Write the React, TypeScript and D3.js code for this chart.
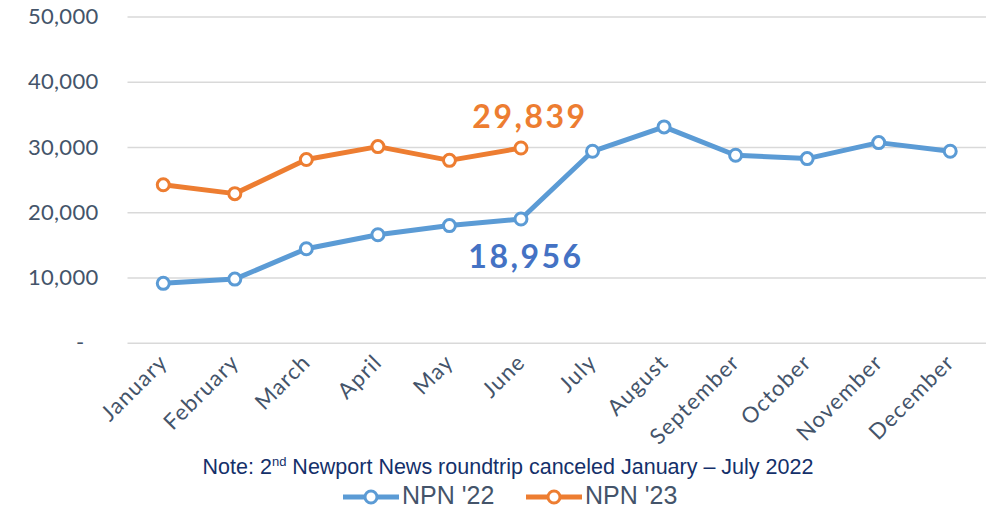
import React, { useEffect, useRef } from 'react';
import * as d3 from 'd3';

const months = ['January', 'February', 'March', 'April', 'May', 'June', 'July', 'August', 'September', 'October', 'November', 'December'];
const npn22 = [9100, 9750, 14400, 16550, 17950, 18956, 29340, 33080, 28730, 28220, 30670, 29340];
const npn23 = [24200, 22850, 28070, 30060, 27950, 29839];
const yTicks = [0, 10000, 20000, 30000, 40000, 50000];

const W = 986;
const H = 508;
const AXIS_FONT = 'Lato, "Open Sans", sans-serif';
const BLUE = '#5B9BD5';
const ORANGE = '#ED7D31';
const SLATE = '#44546A';

export default function App() {
  const svgRef = useRef<SVGSVGElement | null>(null);

  useEffect(() => {
    const svg = d3.select(svgRef.current);
    svg.selectAll('*').remove();

    const x = d3.scalePoint<string>().domain(months).range([127.5, 986]).padding(0.5);
    const y = d3.scaleLinear().domain([0, 50000]).range([342.7, 16.5]);

    // gridlines + y labels
    const yAxis = svg.append('g')
      .attr('transform', 'translate(127.5,0)')
      .call(d3.axisLeft(y).tickValues(yTicks).tickSize(-(W - 127.5)).tickPadding(29)
        .tickFormat(d => (+d === 0 ? '-' : d3.format(',')(+d))));
    yAxis.select('.domain').remove();
    yAxis.selectAll('line').attr('stroke', '#D9D9D9').attr('stroke-width', 1.5);
    yAxis.selectAll('text')
      .attr('fill', SLATE)
      .style('font-family', AXIS_FONT)
      .style('font-size', '22px')
      .style('letter-spacing', '0.3px')
      .attr('dx', (d: any) => (+d === 0 ? -14 : 0));

    // x labels, rotated
    const xAxis = svg.append('g')
      .attr('transform', 'translate(0,342.7)')
      .call(d3.axisBottom(x).tickSize(0).tickPadding(0));
    xAxis.select('.domain').remove();
    xAxis.selectAll('text')
      .attr('fill', SLATE)
      .style('font-family', AXIS_FONT)
      .style('font-size', '22px')
      .style('letter-spacing', '1.2px')
      .attr('text-anchor', 'end')
      .attr('dy', 0)
      .attr('transform', 'translate(5,21) rotate(-45)');

    const line = d3.line<number>()
      .x((_, i) => x(months[i]) as number)
      .y(d => y(d));

    const series = [
      { values: npn22, color: BLUE },
      { values: npn23, color: ORANGE },
    ];
    series.forEach(s => {
      svg.append('path')
        .datum(s.values)
        .attr('d', line)
        .attr('fill', 'none')
        .attr('stroke', s.color)
        .attr('stroke-width', 5)
        .attr('stroke-linejoin', 'round');
      svg.selectAll(null)
        .data(s.values)
        .enter()
        .append('circle')
        .attr('cx', (_, i) => x(months[i]) as number)
        .attr('cy', d => y(d))
        .attr('r', 6)
        .attr('fill', '#fff')
        .attr('stroke', s.color)
        .attr('stroke-width', 3);
    });

    // value call-outs for June
    const juneX = x('June') as number;
    svg.append('text')
      .attr('x', juneX + 9)
      .attr('y', y(npn23[5]) - 20)
      .attr('text-anchor', 'middle')
      .attr('fill', ORANGE)
      .style('font-family', AXIS_FONT)
      .style('font-weight', 700)
      .style('font-size', '32px')
      .style('letter-spacing', '2.5px')
      .text(d3.format(',')(npn23[5]));
    svg.append('text')
      .attr('x', juneX + 5)
      .attr('y', y(npn22[5]) + 49)
      .attr('text-anchor', 'middle')
      .attr('fill', '#4472C4')
      .style('font-family', AXIS_FONT)
      .style('font-weight', 700)
      .style('font-size', '32px')
      .style('letter-spacing', '2.5px')
      .text(d3.format(',')(npn22[5]));

    // note
    const note = svg.append('text')
      .attr('x', 508)
      .attr('y', 474)
      .attr('text-anchor', 'middle')
      .attr('fill', '#14306A')
      .style('font-family', '"Liberation Sans", Arial, sans-serif')
      .style('font-size', '21.5px');
    note.append('tspan').text('Note: 2');
    note.append('tspan').attr('dy', -8).style('font-size', '13px').text('nd');
    note.append('tspan').attr('dy', 8).text(' Newport News roundtrip canceled January \u2013 July 2022');

    // legend
    const legend = [
      { label: "NPN '22", color: BLUE, x0: 343 },
      { label: "NPN '23", color: ORANGE, x0: 526 },
    ];
    legend.forEach(l => {
      const g = svg.append('g').attr('transform', `translate(${l.x0},497)`);
      g.append('line').attr('x1', 0).attr('x2', 56).attr('stroke', l.color).attr('stroke-width', 5);
      g.append('circle').attr('cx', 28).attr('r', 6).attr('fill', '#fff').attr('stroke', l.color).attr('stroke-width', 3);
      g.append('text')
        .attr('x', 59)
        .attr('y', 7)
        .attr('fill', SLATE)
        .style('font-family', '"Liberation Sans", Arial, sans-serif')
        .style('font-size', '25px')
        .text(l.label);
    });
  }, []);

  return (
    <svg
      ref={svgRef}
      width={W}
      height={H}
      style={{ position: 'absolute', left: 0, top: 0, background: '#fff' }}
    />
  );
}
